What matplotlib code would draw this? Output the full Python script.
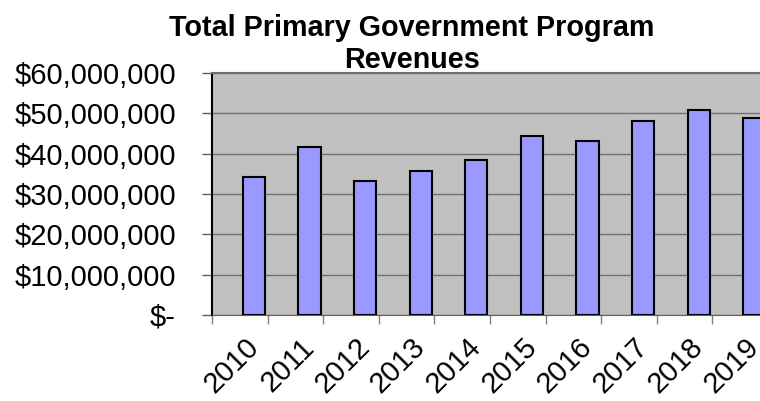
import numpy as np
import matplotlib.pyplot as plt
from matplotlib.ticker import FuncFormatter, MultipleLocator

plt.rcParams['font.family'] = ['Liberation Sans', 'DejaVu Sans']

# Program revenues by fiscal year (dollars)
years = ['2010', '2011', '2012', '2013', '2014', '2015', '2016', '2017', '2018', '2019']
revenues = [34100000, 41600000, 33200000, 35600000, 38500000,
            44300000, 43200000, 48100000, 50900000, 48800000]


def dollars(v, pos):
    if v == 0:
        return '$-'
    return '${:,.0f}'.format(v)


fig = plt.figure(figsize=(7.6, 4.01), dpi=100)
# plot area runs a little past the right edge of the figure
ax = fig.add_axes([212/760, 86/401, 556/760, 242/401])
ax.set_facecolor('#C0C0C0')

x = np.arange(len(years))
ax.bar(x + 0.255, revenues, width=0.4, color='#9999FF', edgecolor='black',
       linewidth=1.5, zorder=3)

ax.set_xlim(-0.5, len(years) - 0.5)
ax.set_ylim(0, 60000000)
ax.yaxis.set_major_locator(MultipleLocator(10000000))
ax.yaxis.set_major_formatter(FuncFormatter(dollars))
ax.grid(axis='y', color='#707070', linewidth=1.0, zorder=1)

# labels sit near the bars, tick marks on the category boundaries
ax.set_xticks(x + 0.08)
ax.set_xticklabels(years, rotation=45, ha='right', va='top', rotation_mode='anchor',
                   fontsize=21)
ax.tick_params(axis='x', which='major', length=0, pad=13)
ax.set_xticks(np.arange(len(years) + 1) - 0.5, minor=True)
ax.tick_params(axis='x', which='minor', length=6.5, width=1, color='#808080')
ax.tick_params(axis='y', length=7, width=1, color='#606060', pad=19, labelsize=21)

ax.spines['left'].set_color('black')
ax.spines['left'].set_linewidth(1.5)
ax.spines['bottom'].set_color('#606060')
ax.spines['top'].set_color('#707070')
ax.spines['top'].set_linewidth(1.5)
ax.spines['right'].set_visible(False)

fig.text(412/760, 1 - 68/401, 'Total Primary Government Program\nRevenues',
         ha='center', va='baseline', fontsize=20.7, fontweight='bold',
         linespacing=1.2)

fig.savefig('out.png', dpi=100)
